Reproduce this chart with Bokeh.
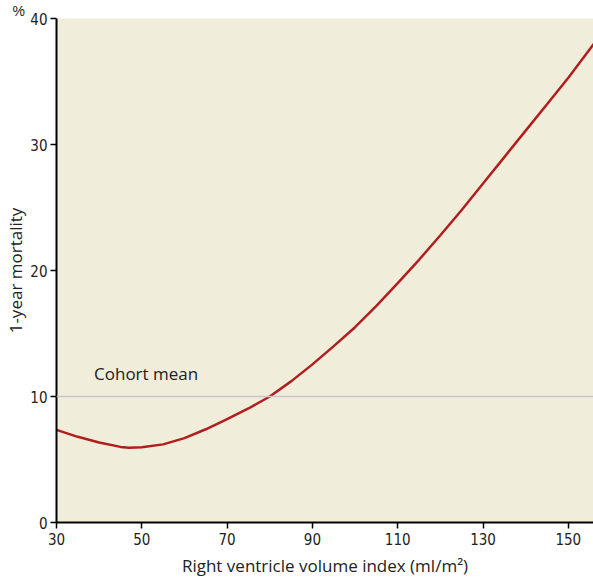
from bokeh.plotting import figure
from bokeh.models import Label, Range1d, FixedTicker, Span
from bokeh.embed import file_html
from bokeh.resources import INLINE

# Data
rv_index = [30, 35, 40, 45, 47, 50, 55, 60, 65, 70, 75, 80, 85, 90, 95, 100, 105, 110, 115,
            120, 125, 130, 135, 140, 145, 150, 156]
mortality = [7.35, 6.8, 6.35, 6.0, 5.93, 5.97, 6.2, 6.7, 7.4, 8.2, 9.05, 10.0, 11.2, 12.55,
             14.0, 15.5, 17.2, 19.0, 20.85, 22.8, 24.8, 26.9, 29.0, 31.1, 33.2, 35.3, 38.0]
cohort_mean = 10
x_ticks = [30, 50, 70, 90, 110, 130, 150]
y_ticks = [0, 10, 20, 30, 40]

TICK_FONT = "'DejaVu Sans Condensed', 'Liberation Sans Narrow', 'Liberation Sans', sans-serif"
LABEL_FONT = "Open Sans"

p = figure(width=593, height=579, output_backend="svg", toolbar_location=None,
           x_range=Range1d(30, 155.9), y_range=Range1d(0, 40),
           min_border_left=56, min_border_top=0, min_border_bottom=57, min_border_right=0)
p.background_fill_color = "#F1EDDB"
p.border_fill_color = "white"
p.outline_line_color = None
p.xgrid.visible = False
p.ygrid.visible = False

p.line(rv_index, mortality, line_color="#B01E1E", line_width=2.5)
p.add_layout(Span(location=cohort_mean, dimension="width", line_color="#C8C8C8", line_width=1.5))

p.add_layout(Label(x=38.8, y=11.8, text="Cohort mean", text_font=LABEL_FONT,
                   text_font_size="17px", text_color="#222222", text_baseline="middle"))

# "%" unit marker above the y axis, drawn as the (left-shifted) title
p.title.text = "%"
p.title.align = "left"
p.title.offset = -44
p.title.standoff = 0
p.title.vertical_align = "bottom"
p.title.text_font = "Liberation Sans"
p.title.text_font_size = "14px"
p.title.text_line_height = 1.0
p.title.text_font_style = "normal"
p.title.text_color = "#222222"

for ax in (p.xaxis[0], p.yaxis[0]):
    ax.axis_line_color = "black"
    ax.axis_line_width = 2
    ax.major_tick_line_color = "black"
    ax.major_tick_line_width = 1.5
    ax.major_tick_out = 6
    ax.major_tick_in = 0
    ax.minor_tick_line_color = None
    ax.major_label_text_font = TICK_FONT
    ax.major_label_text_font_size = "15px"
    ax.major_label_text_color = "#222222"
    ax.axis_label_text_font = LABEL_FONT
    ax.axis_label_text_font_size = "17px"
    ax.axis_label_text_font_style = "normal"
    ax.axis_label_text_color = "#222222"

p.xaxis.ticker = FixedTicker(ticks=x_ticks)
p.yaxis.ticker = FixedTicker(ticks=y_ticks)
p.xaxis.axis_label = "Right ventricle volume index (ml/m²)"
p.yaxis.axis_label = "1-year mortality"
p.xaxis.major_label_standoff = 4
p.yaxis.major_label_standoff = 3
p.xaxis.axis_label_standoff = 6
p.yaxis.axis_label_standoff = 0

open("out.html", "w").write(file_html(p, INLINE))
